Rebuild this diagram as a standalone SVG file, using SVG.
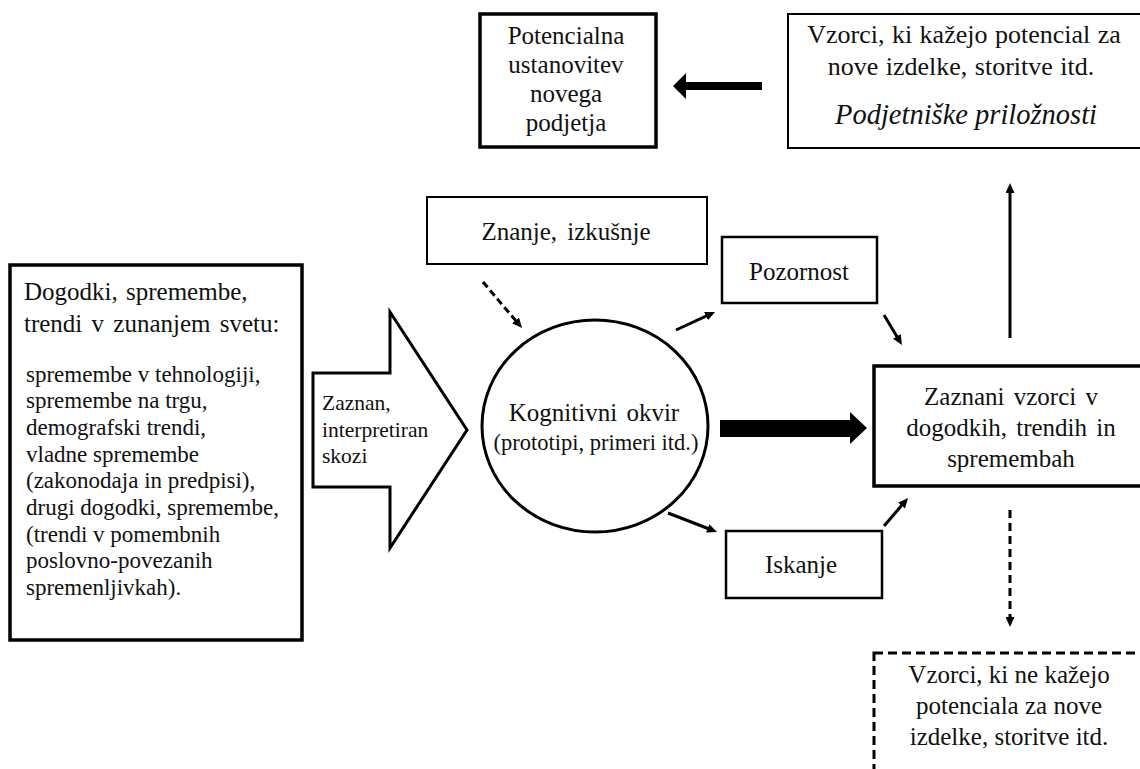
<svg xmlns="http://www.w3.org/2000/svg" width="1140" height="769" viewBox="0 0 1140 769" font-family="'Liberation Serif', 'DejaVu Serif', serif">
<style>
text{font-family:'Liberation Serif','DejaVu Serif',serif;fill:#111}
.t25{font-size:25px}
.t23{font-size:23px}
.c{text-anchor:middle}
.box{fill:#fff;stroke:#000}
.ln{stroke:#000;stroke-width:3;fill:none}
</style>
<defs>
<marker id="ah" markerUnits="userSpaceOnUse" markerWidth="10" markerHeight="9" refX="3" refY="4.5" orient="auto">
<path d="M0,0 L10,4.5 L0,9 z" fill="#000"/>
</marker>
</defs>
<rect width="1140" height="769" fill="#fff"/>

<g id="n-events">
<rect class="box" x="10" y="265" width="292" height="375" stroke-width="3.5"/>
<text class="t25" x="24" y="300" word-spacing="2">Dogodki, spremembe,</text>
<text class="t25" x="24" y="332" word-spacing="3">trendi v zunanjem svetu:</text>
<text class="t23" x="26" y="382">spremembe v tehnologiji,</text>
<text class="t23" x="26" y="408">spremembe na trgu,</text>
<text class="t23" x="26" y="435">demografski trendi,</text>
<text class="t23" x="26" y="462">vladne spremembe</text>
<text class="t23" x="26" y="488">(zakonodaja in predpisi),</text>
<text class="t23" x="26" y="515">drugi dogodki, spremembe,</text>
<text class="t23" x="26" y="542">(trendi v pomembnih</text>
<text class="t23" x="26" y="568">poslovno-povezanih</text>
<text class="t23" x="26" y="595">spremenljivkah).</text>
</g>

<g id="n-perceived">
<polygon class="box" points="313,373 390,373 390,312 467,430 390,548 390,487 313,487" stroke-width="3"/>
<text x="322" y="410" style="font-size:21.5px">Zaznan,</text>
<text x="322" y="437" style="font-size:21.5px">interpretiran</text>
<text x="322" y="463" style="font-size:21.5px">skozi</text>
</g>

<g id="n-cognitive">
<ellipse class="box" cx="595" cy="426" rx="113" ry="106" stroke-width="3"/>
<text class="t25 c" x="594" y="421" word-spacing="3">Kognitivni okvir</text>
<text class="c" x="596" y="450" style="font-size:22.5px">(prototipi, primeri itd.)</text>
</g>

<g id="n-knowledge">
<rect class="box" x="427" y="197" width="280" height="67" stroke-width="2"/>
<text class="t25 c" x="566" y="240" word-spacing="4">Znanje, izkušnje</text>
</g>

<g id="n-attention">
<rect class="box" x="722" y="237" width="155" height="66" stroke-width="2.5"/>
<text class="t25 c" x="799" y="280">Pozornost</text>
</g>

<g id="n-search">
<rect class="box" x="726" y="531" width="156" height="67" stroke-width="2.5"/>
<text class="t25 c" x="801" y="573">Iskanje</text>
</g>

<g id="n-patterns">
<rect class="box" x="874" y="366" width="280" height="120" stroke-width="3.5"/>
<text class="t25 c" x="1011" y="405" word-spacing="3">Zaznani vzorci v</text>
<text class="t25 c" x="1011" y="436" word-spacing="3">dogodkih, trendih in</text>
<text class="t25 c" x="1011" y="467">spremembah</text>
</g>

<g id="n-opportunities">
<rect class="box" x="788" y="14" width="360" height="134" stroke="#444" stroke-width="2"/>
<text class="c" x="964" y="43" style="font-size:26px" word-spacing="1">Vzorci, ki kažejo potencial za</text>
<text class="c" x="961" y="75" style="font-size:26px" word-spacing="1">nove izdelke, storitve itd.</text>
<text class="c" x="966" y="124" style="font-size:28.5px;font-style:italic">Podjetniške priložnosti</text>
</g>

<g id="n-newfirm">
<rect class="box" x="480" y="14" width="176" height="133" stroke-width="3.5"/>
<text class="t25 c" x="566" y="44">Potencialna</text>
<text class="t25 c" x="566" y="73">ustanovitev</text>
<text class="t25 c" x="566" y="102">novega</text>
<text class="t25 c" x="566" y="131">podjetja</text>
</g>

<g id="n-nopotential">
<rect class="box" x="874" y="653" width="280" height="130" stroke-width="3" stroke-dasharray="9,5"/>
<text class="t25 c" x="1009" y="683">Vzorci, ki ne kažejo</text>
<text class="t25 c" x="1009" y="714">potenciala za nove</text>
<text class="t25 c" x="1009" y="745">izdelke, storitve itd.</text>
</g>

<g id="connectors">
<line class="ln" x1="483" y1="282" x2="517.5" y2="322.7" stroke-dasharray="7,4" marker-end="url(#ah)"/>
<line class="ln" x1="676" y1="330" x2="708.7" y2="314.9" marker-end="url(#ah)"/>
<line class="ln" x1="668" y1="513" x2="710.5" y2="529.5" marker-end="url(#ah)"/>
<line class="ln" x1="884" y1="315" x2="898.4" y2="339" marker-end="url(#ah)"/>
<line class="ln" x1="884" y1="526" x2="903.5" y2="503.3" marker-end="url(#ah)"/>
<line class="ln" x1="1010" y1="338" x2="1010" y2="190" marker-end="url(#ah)"/>
<line class="ln" x1="1010" y1="510" x2="1010" y2="620" stroke-dasharray="8,5" marker-end="url(#ah)"/>
<polygon points="720,420 850,420 850,412 867,428 850,444 850,437 720,437" fill="#000"/>
<polygon points="762,82 686,82 686,73 673,86 686,99 686,90 762,90" fill="#000"/>
</g>
</svg>
